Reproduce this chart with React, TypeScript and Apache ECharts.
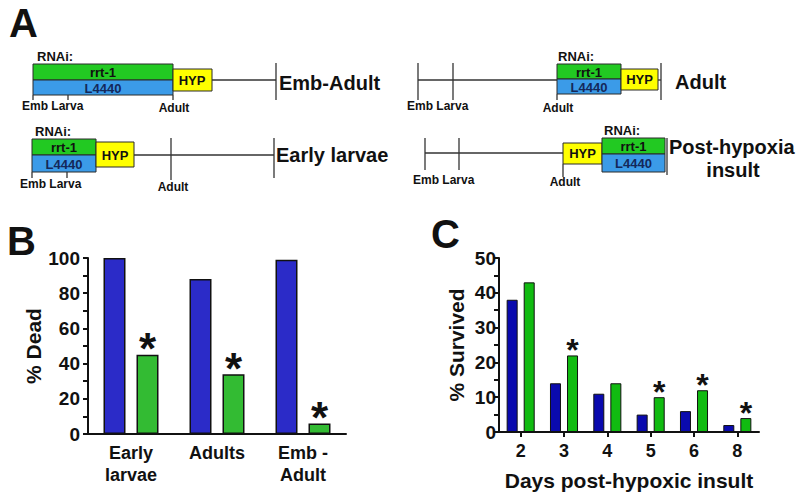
import React, { useEffect, useRef } from "react";
import * as echarts from "echarts";

// Panel B data
const bCategories = ["Early\nlarvae", "Adults", "Emb -\nAdult"];
const bL4440 = [100, 88, 99];
const bRrt1 = [45, 34, 6];
const bSig = [true, true, true];
const bTicks = [0, 20, 40, 60, 80, 100];

// Panel C data
const cDays = ["2", "3", "4", "5", "6", "8"];
const cL4440 = [38, 14, 11, 5, 6, 2];
const cRrt1 = [43, 22, 14, 10, 12, 4];
const cSig = [false, true, false, true, true, true];
const cTicks = [0, 10, 20, 30, 40, 50];

const FONT = "'Liberation Sans', Arial, Helvetica, sans-serif";
const NARROW = "'Liberation Sans Narrow', 'Liberation Sans', Arial, sans-serif";
const BOX_GREEN = "#22c922";
const BOX_BLUE = "#3b9be8";
const BOX_YELLOW = "#ffff00";
const LINE = "#333333";

function rect(x: number, y: number, w: number, h: number, fill: string) {
  return { type: "rect", shape: { x, y, width: w, height: h }, style: { fill, stroke: "#2a2a2a", lineWidth: 1 }, silent: true };
}
function seg(x1: number, y1: number, x2: number, y2: number) {
  return { type: "line", shape: { x1, y1, x2, y2 }, style: { stroke: LINE, lineWidth: 1.3 }, silent: true };
}
function txt(x: number, y: number, text: string, size: number, align = "left", fill = "#111111") {
  return {
    type: "text", x, y, silent: true,
    style: { text, fontSize: size, fontWeight: "bold", fontFamily: FONT, fill, align, verticalAlign: "middle" },
  };
}

const SMALL = 12;
const BOXT = 13;
const BIG = 20;

function diagram() {
  const g: any[] = [];
  // Panel letters
  g.push(txt(9, 23, "A", 40));
  g.push(txt(7, 241, "B", 40));
  g.push(txt(431, 234, "C", 40));

  // Row 1 left: Emb-Adult
  g.push(txt(37, 56, "RNAi:", 13));
  g.push(rect(33, 64, 140, 16, BOX_GREEN));
  g.push(rect(33, 80, 140, 15, BOX_BLUE));
  g.push(txt(103, 72, "rrt-1", BOXT, "center"));
  g.push(txt(103, 88, "L4440", BOXT, "center", "#14285a"));
  g.push(rect(173, 69, 39, 22, BOX_YELLOW));
  g.push(txt(192, 80, "HYP", BOXT, "center"));
  g.push(seg(212, 80, 276, 80));
  g.push(seg(276, 63, 276, 100));
  g.push(seg(33, 95, 33, 100));
  g.push(seg(68, 95, 68, 100));
  g.push(seg(173, 95, 173, 100));
  g.push(txt(22, 106, "Emb Larva", SMALL));
  g.push(txt(174, 108, "Adult", SMALL, "center"));
  g.push(txt(279, 83, "Emb-Adult", BIG));

  // Row 1 right: Adult
  g.push(seg(418, 80, 557, 80));
  g.push(seg(418, 63, 418, 100));
  g.push(seg(453, 63, 453, 100));
  g.push(txt(558, 56, "RNAi:", 13));
  g.push(rect(557, 64, 64, 15, BOX_GREEN));
  g.push(rect(557, 79, 64, 15, BOX_BLUE));
  g.push(txt(589, 72, "rrt-1", BOXT, "center"));
  g.push(txt(589, 87, "L4440", BOXT, "center", "#14285a"));
  g.push(rect(621, 69, 37, 21, BOX_YELLOW));
  g.push(txt(639.5, 79.5, "HYP", BOXT, "center"));
  g.push(seg(658, 80, 661, 80));
  g.push(seg(661, 63, 661, 100));
  g.push(seg(557, 94, 557, 100));
  g.push(txt(407, 106, "Emb Larva", SMALL));
  g.push(txt(558, 108, "Adult", SMALL, "center"));
  g.push(txt(675, 82, "Adult", BIG));

  // Row 2 left: Early larvae
  g.push(txt(35, 131, "RNAi:", 13));
  g.push(rect(32, 139, 64, 16, BOX_GREEN));
  g.push(rect(32, 155, 64, 17, BOX_BLUE));
  g.push(txt(64, 147.5, "rrt-1", BOXT, "center"));
  g.push(txt(64, 164, "L4440", BOXT, "center", "#14285a"));
  g.push(rect(96, 142, 38, 25, BOX_YELLOW));
  g.push(txt(115, 155, "HYP", BOXT, "center"));
  g.push(seg(134, 155, 274, 155));
  g.push(seg(171, 138, 171, 180));
  g.push(seg(274, 138, 274, 178));
  g.push(seg(32, 172, 32, 178));
  g.push(seg(67, 172, 67, 178));
  g.push(txt(20, 184, "Emb Larva", SMALL));
  g.push(txt(173, 187, "Adult", SMALL, "center"));
  g.push(txt(276, 155, "Early larvae", BIG));

  // Row 2 right: Post-hypoxia insult
  g.push(seg(425, 153, 563, 153));
  g.push(seg(425, 138, 425, 170));
  g.push(seg(459, 138, 459, 170));
  g.push(rect(563, 143, 39, 21, BOX_YELLOW));
  g.push(txt(582.5, 153.5, "HYP", BOXT, "center"));
  g.push(txt(604, 130, "RNAi:", 13));
  g.push(rect(602, 138, 63, 16, BOX_GREEN));
  g.push(rect(602, 154, 63, 18, BOX_BLUE));
  g.push(txt(633.5, 146.5, "rrt-1", BOXT, "center"));
  g.push(txt(633.5, 163, "L4440", BOXT, "center", "#14285a"));
  g.push(seg(667, 138, 667, 175));
  g.push(seg(563, 164, 563, 177));
  g.push(txt(413, 180, "Emb Larva", SMALL));
  g.push(txt(565, 182, "Adult", SMALL, "center"));
  g.push(txt(669, 147, "Post-hypoxia", BIG));
  g.push(txt(733, 170, "insult", BIG, "center"));
  return g;
}

function sigData(vals: number[], sig: boolean[], size: number, dist: number) {
  return vals.map((v, i) =>
    sig[i]
      ? {
          value: v,
          label: {
            show: true, position: "top", distance: dist, formatter: "*",
            fontSize: size, fontWeight: "bold", fontFamily: FONT, color: "#111",
          },
        }
      : v
  );
}

export default function App() {
  const ref = useRef<HTMLDivElement>(null);
  useEffect(() => {
    document.body.style.margin = "0";
    if (!ref.current) return;
    const chart = echarts.init(ref.current, undefined, { renderer: "svg" });
    const axisLine = { show: true, lineStyle: { color: "#111", width: 2 } };
    chart.setOption({
      animation: false,
      backgroundColor: "#ffffff",
      graphic: diagram(),
      grid: [
        { left: 88, top: 258, width: 258, height: 176 },
        { left: 499, top: 258, width: 260, height: 174 },
      ],
      xAxis: [
        {
          type: "category", gridIndex: 0, data: bCategories,
          axisLine, axisTick: { show: false },
          axisLabel: { color: "#111", fontSize: 18, fontWeight: "bold", fontFamily: FONT, margin: 8, lineHeight: 22 },
        },
        {
          type: "category", gridIndex: 1, data: cDays,
          axisLine, axisTick: { show: true, alignWithLabel: true, length: 5, lineStyle: { color: "#111", width: 2 } },
          axisLabel: { color: "#111", fontSize: 18, fontWeight: "bold", fontFamily: FONT, margin: 10 },
          name: "Days post-hypoxic insult", nameLocation: "middle", nameGap: 38,
          nameTextStyle: { color: "#111", fontSize: 21, fontWeight: "bold", fontFamily: FONT },
        },
      ],
      yAxis: [
        {
          type: "value", gridIndex: 0, min: 0, max: 100, interval: 20,
          axisLine, splitLine: { show: false },
          axisTick: { show: true, length: 5, lineStyle: { color: "#111", width: 2 } },
          minorTick: { show: true, splitNumber: 2, length: 5, lineStyle: { color: "#111", width: 2 } },
          axisLabel: { color: "#111", fontSize: 19, fontWeight: "bold", fontFamily: FONT, margin: 8, customValues: bTicks },
          name: "% Dead", nameLocation: "middle", nameGap: 44,
          nameTextStyle: { color: "#111", fontSize: 21, fontWeight: "bold", fontFamily: FONT },
        },
        {
          type: "value", gridIndex: 1, min: 0, max: 50, interval: 10,
          axisLine, splitLine: { show: false },
          axisTick: { show: true, length: 5, lineStyle: { color: "#111", width: 2 } },
          minorTick: { show: true, splitNumber: 2, length: 5, lineStyle: { color: "#111", width: 2 } },
          axisLabel: { color: "#111", fontSize: 19, fontWeight: "bold", fontFamily: NARROW, margin: 3, customValues: cTicks },
          name: "% Survived", nameLocation: "middle", nameGap: 32,
          nameTextStyle: { color: "#111", fontSize: 21, fontWeight: "bold", fontFamily: FONT },
        },
      ],
      series: [
        {
          name: "L4440", type: "bar", xAxisIndex: 0, yAxisIndex: 0, data: bL4440,
          barWidth: 22, barGap: "50%",
          itemStyle: { color: "#2b2bc8", borderColor: "#111", borderWidth: 1.5 },
        },
        {
          name: "rrt-1", type: "bar", xAxisIndex: 0, yAxisIndex: 0, data: sigData(bRrt1, bSig, 44, -16),
          barWidth: 22,
          itemStyle: { color: "#33bb33", borderColor: "#111", borderWidth: 1.5 },
        },
        {
          name: "L4440", type: "bar", xAxisIndex: 1, yAxisIndex: 1, data: cL4440,
          barWidth: 11, barGap: "55%",
          itemStyle: { color: "#0a0aae", borderColor: "#111", borderWidth: 1 },
        },
        {
          name: "rrt-1", type: "bar", xAxisIndex: 1, yAxisIndex: 1, data: sigData(cRrt1, cSig, 32, -11),
          barWidth: 11,
          itemStyle: { color: "#11bb11", borderColor: "#111", borderWidth: 1 },
        },
      ],
    });
    return () => chart.dispose();
  }, []);
  return <div ref={ref} style={{ width: 800, height: 496 }} />;
}
